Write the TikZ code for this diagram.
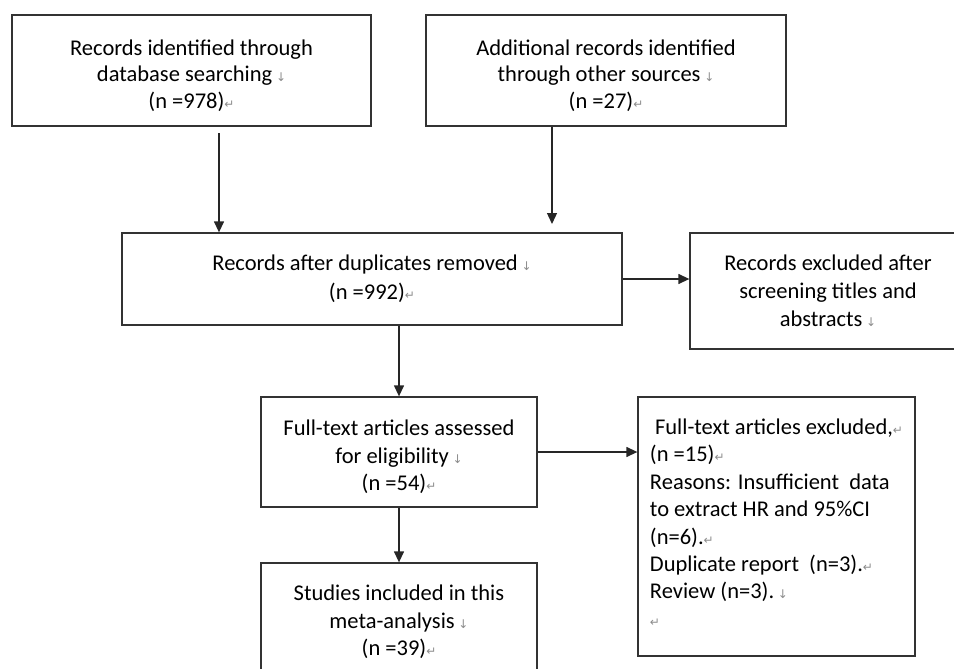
\documentclass[tikz,border=0pt]{standalone}
\usepackage{fontspec}
\setmainfont{Carlito}
\newfontfamily\dejavu{DejaVu Sans}
\usetikzlibrary{arrows.meta}
\newcommand\brkmark{\,{\dejavu\fontsize{12}{12}\selectfont\textcolor{black!45}{↓}}}
\newcommand\retmark{{\dejavu\fontsize{12}{12}\selectfont\textcolor{black!45}{↵}}}
\newcommand\topstrut{\rule{0pt}{26pt}}
\tikzset{
  box/.style={draw=black!80, line width=1.3pt, text=black, align=center,
    inner sep=0pt, font=\fontsize{22.5}{26.5}\selectfont},
  arr/.style={draw=black!85, line width=1.3pt, -{Triangle[length=11pt,width=10pt]}}
}
\begin{document}
\begin{tikzpicture}[x=1pt,y=-1pt]
\useasboundingbox (0,0) rectangle (954,669);
\node[box, minimum width=359pt, minimum height=111pt] (A) at (191.5,70.5)
  {\topstrut Records identified through\\ database searching\brkmark\\ (n =978)\retmark};
\node[box, minimum width=360pt, minimum height=111pt] (B) at (606,70.5)
  {\topstrut Additional records identified\\ through other sources\brkmark\\ (n =27)\retmark};
\node[box, minimum width=500pt, minimum height=92pt, font=\fontsize{22.5}{29}\selectfont] (C) at (372,279)
  {Records after duplicates removed\brkmark\\ (n =992)\retmark};
\node[box, minimum width=276pt, minimum height=116pt, font=\fontsize{22.5}{28}\selectfont] (D) at (828,291)
  {Records excluded after\\ screening titles and\\ abstracts\brkmark};
\node[box, minimum width=276pt, minimum height=110pt, font=\fontsize{22.5}{27.5}\selectfont] (E) at (399,452)
  {\topstrut Full-text articles assessed\\ for eligibility\brkmark\\ (n =54)\retmark};
\node[box, minimum width=276pt, minimum height=118pt, font=\fontsize{22.5}{27.5}\selectfont] (F) at (399,622)
  {Studies included in this\\ meta-analysis\brkmark\\ (n =39)\retmark};
\node[box, align=left, minimum width=277pt, minimum height=259pt, font=\fontsize{22.5}{27.4}\selectfont] (G) at (776.5,526.5)
  {\ Full-text articles excluded,\retmark\\ (n =15)\retmark\\ Reasons: Insufficient\ \ data\\ to extract HR and 95\%CI\\ (n=6).\retmark\\ Duplicate report\ \ (n=3).\retmark\\ Review (n=3).\brkmark\\ \retmark\rule[-8pt]{0pt}{0pt}};
\coordinate (a1) at (219,133);
\coordinate (b2) at (552,224);
\draw[arr] (a1) -- (a1 |- C.north);
\draw[arr] (b2 |- B.south) -- (b2);
\draw[arr] (C.east) -- (C.east -| D.west);
\draw[arr] (E.north |- C.south) -- (E.north);
\draw[arr] (E.east) -- (E.east -| G.west);
\draw[arr] (E.south) -- (F.north);
\end{tikzpicture}
\end{document}
